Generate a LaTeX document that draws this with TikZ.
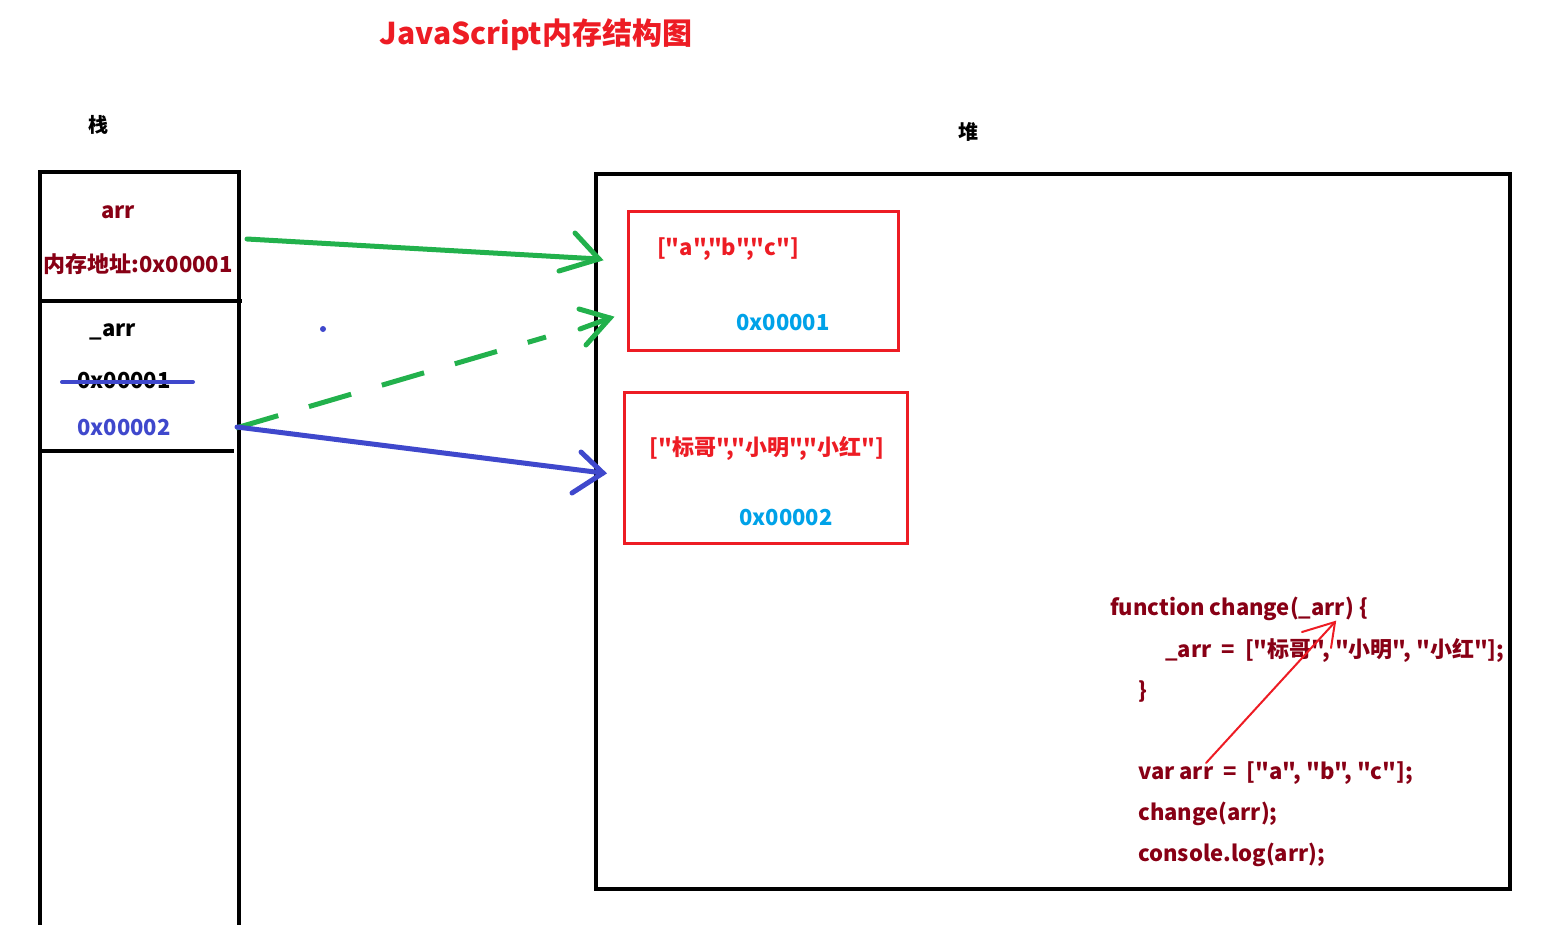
\documentclass[tikz,border=0pt]{standalone}
\usepackage{fontspec}
\setmainfont{Noto Sans CJK SC}[Ligatures=TeXOff]
\usetikzlibrary{arrows.meta,calc}
\definecolor{pred}{RGB}{237,28,36}
\definecolor{dred}{RGB}{136,0,21}
\definecolor{lblue}{RGB}{0,162,232}
\definecolor{indig}{RGB}{63,72,204}
\definecolor{pgreen}{RGB}{34,177,76}
\tikzset{
  txt/.style={inner sep=0pt, font=\bfseries\fontsize{22}{26}\selectfont},
  codetxt/.style={txt, text=dred, anchor=west},
  frameline/.style={line width=4pt, black},
  membox/.style={draw=pred, line width=3pt},
  greenarrow/.style={pgreen, line width=5pt, line cap=round},
  bluearrow/.style={indig, line width=5pt, line cap=round},
  redarrow/.style={pred, line width=2pt, line cap=round},
}
\begin{document}
\begin{tikzpicture}[x=1pt,y=-1pt]
\useasboundingbox (0,0) rectangle (1546,924);
% title
\node[txt, text=pred, font=\bfseries\fontsize{30}{34}\selectfont] (title) at (536,35) {JavaScript内存结构图};
\node[txt, font=\bfseries\fontsize{20}{24}\selectfont] (zhan) at (98,125) {栈};
\node[txt, font=\bfseries\fontsize{20}{24}\selectfont] (dui) at (968,132) {堆};
% stack frame
\draw[frameline] (40,926) -- (40,172) -- (239,172) -- (239,926);
\draw[frameline] (40,301) -- (242,301);
\draw[frameline] (40,451) -- (234,451);
% stack texts
\node[txt, text=dred] (arr) at (118,212) {arr};
\node[txt, text=dred] (addr) at (138,264) {内存地址:0x00001};
\node[txt] (uarr) at (113,332) {\_arr};
\node[txt] (old) at (124,381) {0x00001};
\draw[indig, line width=4pt, line cap=round] (62,382) -- (193,382);
\node[txt, text=indig] (new) at (124,428) {0x00002};
% heap
\draw[frameline] (596,174) rectangle (1510,889);
\draw[membox] (628,211) rectangle (898,350);
\node[txt, text=pred] (abc) at (728,249) {["a","b","c"]};
\node[txt, text=lblue] (a1) at (783,323) {0x00001};
\draw[membox] (624,392) rectangle (907,543);
\node[txt, text=pred] (names) at (767,448) {["标哥","小明","小红"]};
\node[txt, text=lblue] (a2) at (786,518) {0x00002};
% code
\node[codetxt] (c1) at (1110,609) {function change(\_arr) \{};
\node[codetxt] (c2) at (1165,650) {\_arr\ \ =\ \ ["标哥", "小明", "小红"];};
\node[codetxt] (c3) at (1138,691) {\}};
\node[codetxt] (c4) at (1138,773) {var arr\ \ =\ \ ["a", "b", "c"];};
\node[codetxt] (c5) at (1138,814) {change(arr);};
\node[codetxt] (c6) at (1138,855) {console.log(arr);};
% coordinates for connectors
\coordinate (g1s) at (247,239);
\coordinate (g1t) at (599,259);
\coordinate (g2s) at (236,428);
\coordinate (g2e) at (546,337);
\coordinate (g2m) at (580,329);
\coordinate (g2t) at (610,318);
\coordinate (b1s) at (237,427);
\coordinate (b1t) at (603,473);
\coordinate (r1s) at (1206,763);
\coordinate (r1t) at (1335,622);
% green solid arrow
\draw[greenarrow] (g1s) -- (g1t);
\draw[greenarrow] ($(g1t)+(-24,-26)$) -- (g1t) -- ($(g1t)+(-40,12)$);
% green dashed arrow
\draw[greenarrow, line cap=butt, dash pattern=on 44pt off 32pt] (g2s) -- (g2e);
\draw[greenarrow] (g2m) -- (g2t);
\draw[greenarrow] ($(g2t)+(-31,-9)$) -- (g2t) -- ($(g2t)+(-24,27)$);
% blue arrow
\draw[bluearrow] (b1s) -- (b1t);
\draw[bluearrow] ($(b1t)+(-22,-21)$) -- (b1t) -- ($(b1t)+(-31,20)$);
% blue dot
\fill[indig] (323,329) circle (3pt);
% red arrow
\draw[redarrow] (r1s) -- (r1t);
\draw[redarrow] ($(r1t)+(-33,10)$) -- (r1t) -- ($(r1t)+(-4,26)$);
\end{tikzpicture}
\end{document}
